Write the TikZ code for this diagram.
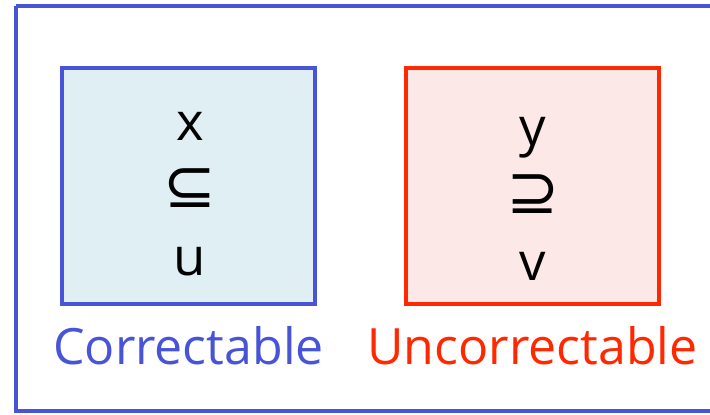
\documentclass[tikz,border=0pt]{standalone}
\usepackage{fontspec}
\setmainfont{Open Sans}
\newfontfamily\symfont{DejaVu Sans}
\usetikzlibrary{positioning}

\definecolor{goodblue}{RGB}{72,84,216}
\definecolor{goodfill}{RGB}{224,239,243}
\definecolor{badred}{RGB}{255,40,0}
\definecolor{badfill}{RGB}{253,232,232}

\newcommand{\bigsym}[1]{{\symfont\fontsize{36}{38}\selectfont #1}}

\begin{document}
\begin{tikzpicture}[x=0.02cm, y=-0.02cm,
    frame/.style={draw=goodblue, line width=2pt},
    setbox/.style={rectangle, draw, line width=2pt, minimum width=5.06cm, minimum height=4.72cm, inner sep=0pt},
    good/.style={setbox, draw=goodblue, fill=goodfill},
    bad/.style={setbox, draw=badred, fill=badfill},
    content/.style={align=center, inner sep=0pt, font=\fontsize{30}{38.5}\selectfont},
    caption/.style={font=\fontsize{28.5}{32}\selectfont, inner sep=0pt},
    node distance=0.4cm
]
\useasboundingbox (0,0) rectangle (710,414);
% outer frame
\draw[frame] (16,6) -- (730,6) (16,6) -- (16,411) -- (730,411);

% Boxes
\node[good] (correct) at (188.5,186) {};
\node[bad] (uncorrect) at (532.5,186) {};

% Box contents
\node[content] (correctset) at (190,194) {x\\\bigsym{⊆}\\u};
\node[content] (uncorrectset) at (532.5,199) {y\\\bigsym{⊇}\\v};

% Captions
\node[caption, text=goodblue, below=of correct] (correctlabel) {Correctable};
\node[caption, text=badred, below=of uncorrect] (uncorrectlabel) {Uncorrectable};
\end{tikzpicture}
\end{document}
